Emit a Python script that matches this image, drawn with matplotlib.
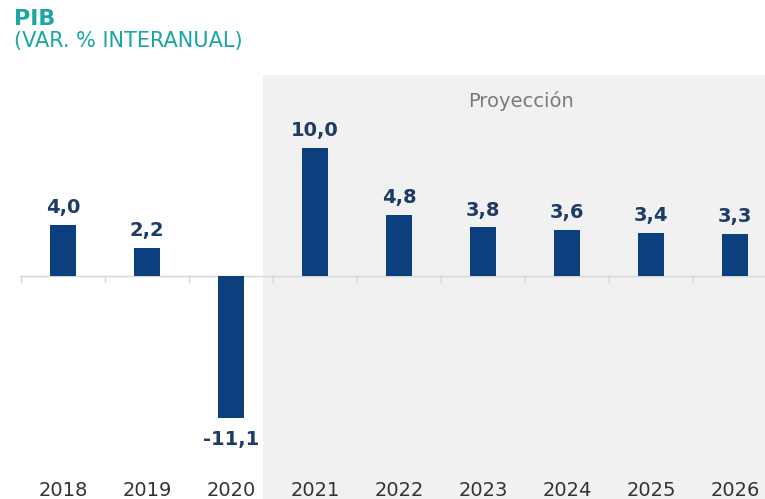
import matplotlib.pyplot as plt

years = ["2018", "2019", "2020", "2021", "2022", "2023", "2024", "2025", "2026"]
values = [4.0, 2.2, -11.1, 10.0, 4.8, 3.8, 3.6, 3.4, 3.3]
labels = ["4,0", "2,2", "-11,1", "10,0", "4,8", "3,8", "3,6", "3,4", "3,3"]
first_projection = 3

bar_color = "#0b3f7e"
label_color = "#1d3c66"
teal = "#1aa6a2"

fig = plt.figure(figsize=(7.65, 4.99), dpi=100)
ax = fig.add_axes([0, 0, 1, 424 / 499])
x = list(range(len(years)))

# shaded projection area
ax.axvspan(first_projection - 0.62, 9, color="#f1f1f1", zorder=0, lw=0)
ax.text(first_projection + 2.45, 13.7, "Proyección", ha="center", va="center",
        fontsize=14, color="#7a7a7a")

ax.bar(x, values, width=0.32, color=bar_color, zorder=3)

# zero line with small ticks between categories
ax.axhline(0, xmin=0.026, color="#d6d6d6", lw=1, zorder=2)
for i in range(len(years)):
    ax.plot([i - 0.5, i - 0.5], [0, -0.45], color="#d6d6d6", lw=1, zorder=2)

for xi, v, lab in zip(x, values, labels):
    if v >= 0:
        ax.text(xi, v + 0.6, lab, ha="center", va="bottom", fontsize=14,
                fontweight="bold", color=label_color)
    else:
        ax.text(xi, v - 0.9, lab, ha="center", va="top", fontsize=14,
                fontweight="bold", color=label_color)

for xi, yr in zip(x, years):
    ax.text(xi, -16.7, yr, ha="center", va="center", fontsize=14, color="#333333")

ax.set_xlim(-0.75, 8.357)
ax.set_ylim(-17.4, 15.7)
ax.axis("off")

fig.text(14 / 765, 1 - 19 / 499, "PIB", fontsize=16, fontweight="bold",
         color=teal, va="center", ha="left")
fig.text(14 / 765, 1 - 41 / 499, "(VAR. % INTERANUAL)", fontsize=15,
         color=teal, va="center", ha="left")

fig.savefig("out.png", dpi=100)
